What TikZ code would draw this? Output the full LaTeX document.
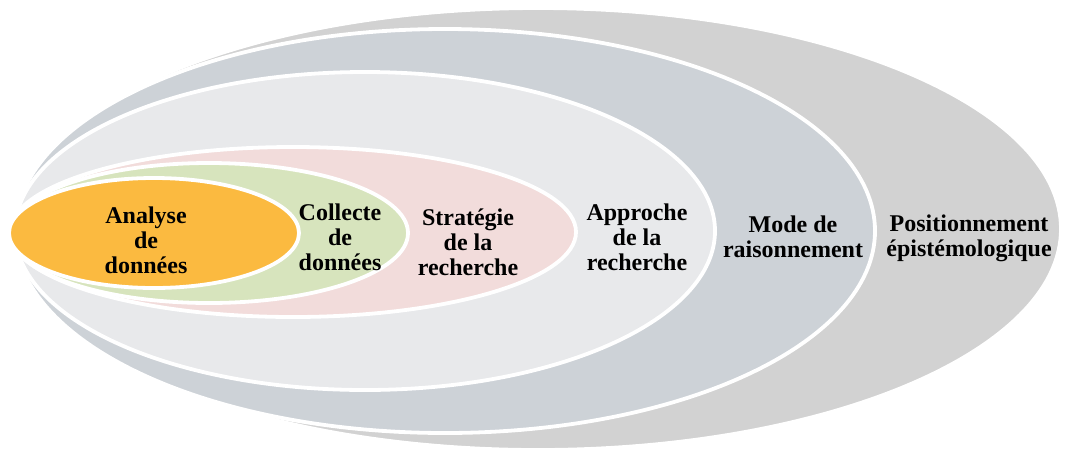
\documentclass[tikz,border=0pt]{standalone}
\usepackage{fontspec}
\setmainfont{Liberation Serif}
\usetikzlibrary{shapes.geometric}

\definecolor{epistgray}{HTML}{D2D2D2}
\definecolor{modegray}{HTML}{CDD2D7}
\definecolor{approgray}{HTML}{E8E9EB}
\definecolor{stratpink}{HTML}{F2DCDB}
\definecolor{collgreen}{HTML}{D7E4BD}
\definecolor{anaorange}{HTML}{FBBA40}

\begin{document}
\begin{tikzpicture}[
      x=1pt, y=-1pt,
      ring/.style={ellipse, draw=white, line width=3.8pt, inner sep=0pt},
      lbl/.style={align=center, inner sep=0pt,
                  font=\fontsize{24}{25}\selectfont\bfseries}
    ]
    \useasboundingbox (0,0) rectangle (1066,451);
    % anneaux, du plus large au plus petit
    \node[ring, fill=epistgray, minimum width=1046pt, minimum height=442pt]
          (epist) at (538,229) {};
    \node[ring, fill=modegray, minimum width=860pt, minimum height=404pt]
          (mode) at (445,231) {};
    \node[ring, fill=approgray, minimum width=700pt, minimum height=318pt]
          (appro) at (365,231) {};
    \node[ring, fill=stratpink, minimum width=566pt, minimum height=170pt]
          (strat) at (293,232) {};
    \node[ring, fill=collgreen, minimum width=398pt, minimum height=140pt]
          (coll) at (209,233) {};
    \node[ring, fill=anaorange, minimum width=290pt, minimum height=110pt]
          (ana) at (154,233) {};
    % textes
    \node[lbl] (tana)   at (146,240) {Analyse\\de\\données};
    \node[lbl] (tcoll)  at (340,237) {Collecte\\de\\données};
    \node[lbl] (tstrat) at (468,242) {Stratégie\\de la\\recherche};
    \node[lbl] (tappro) at (637,237) {Approche\\de la\\recherche};
    \node[lbl] (tmode)  at (793,237) {Mode de\\raisonnement};
    \node[lbl] (tepist) at (969,238) {Positionnement\\épistémologique};
  \end{tikzpicture}
\end{document}
